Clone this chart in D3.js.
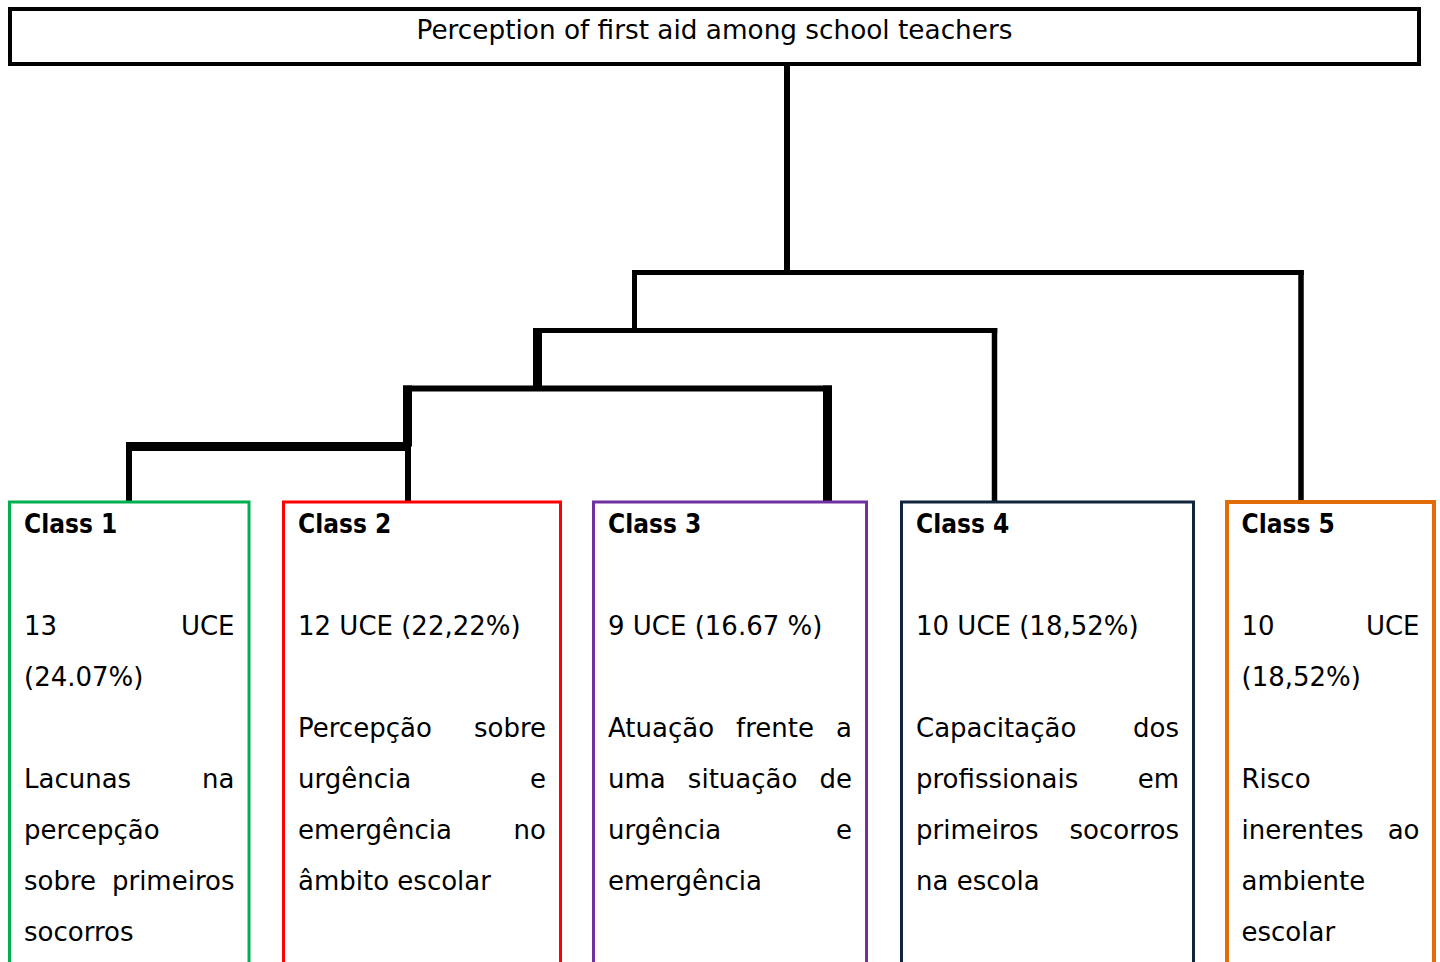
<!DOCTYPE html>
<html>
<head>
<meta charset="utf-8">
<script src="https://cdn.jsdelivr.net/npm/d3@7"></script>
<style>
  html, body { margin: 0; padding: 0; background: #fff; overflow: hidden; }
  svg { display: block; }
</style>
</head>
<body>
<svg id="chart" width="1440" height="962"></svg>
<script>
// ---------- DATA ----------
const title = "Perception of first aid among school teachers";
const classNames = ["Class 1", "Class 2", "Class 3", "Class 4", "Class 5"];
const uceCounts = [13, 12, 9, 10, 10];
// UCE labels as printed, with the line breaks
const uceLabels = [
  "13 UCE\n(24.07%)",
  "12 UCE (22,22%)",
  "9 UCE (16.67 %)",
  "10 UCE (18,52%)",
  "10 UCE\n(18,52%)"
];
const descriptions = [
  "Lacunas na\npercepção\nsobre primeiros\nsocorros",
  "Percepção sobre\nurgência e\nemergência no\nâmbito escolar",
  "Atuação frente a\numa situação de\nurgência e\nemergência",
  "Capacitação dos\nprofissionais em\nprimeiros socorros\nna escola",
  "Risco\ninerentes ao\nambiente\nescolar"
];
const classColors = ["#00B050", "#FF0000", "#7030A0", "#10243E", "#E36C0A"];
// classification tree (descending hierarchical classification)
const tree = {
  name: "root",
  children: [
    { name: "A", children: [
      { name: "B", children: [
        { name: "C", children: [ { name: "Class 1" }, { name: "Class 2" } ] },
        { name: "Class 3" }
      ]},
      { name: "Class 4" }
    ]},
    { name: "Class 5" }
  ]
};

// ---------- LAYOUT (positions / styles) ----------
const W = 1440, H = 962;
const titleBox = { x: 10, y: 9, w: 1409, h: 55, stroke: 4 };
const boxLeft  = [9.5, 283.5, 593.5, 901.5, 1227];
const boxRight = [249, 560.5, 866.5, 1193.5, 1434];
const boxTop = 502;
const boxStroke = [3, 3, 3, 3, 4];
const pad = 14.5;
const nodeX = { root: 787, A: 634.5, B: 537.5, C: 407.5,
  "Class 1": 129, "Class 2": 408, "Class 3": 827.5, "Class 4": 994.5, "Class 5": 1301 };
const stemWidth = { root: 6, A: 5, B: 9, C: 9,
  "Class 1": 6, "Class 2": 6, "Class 3": 9, "Class 4": 5.5, "Class 5": 5.5 };
const barWidth = { root: 5, A: 5, B: 6, C: 9 };
const rowStart = 533, rowStep = 51;
const bodyFont = "'DejaVu Sans', sans-serif";
const bodySize = 26;

const svg = d3.select("#chart");

// y scale for merge levels (hierarchy height -> y)
const yLevel = d3.scaleLinear().domain([1, 4]).range([446.5, 272.5]);
const yRow = d3.scaleLinear().domain([0, 1]).range([rowStart, rowStart + rowStep]);

// ---------- TITLE BOX ----------
svg.append("rect")
  .attr("x", titleBox.x).attr("y", titleBox.y)
  .attr("width", titleBox.w).attr("height", titleBox.h)
  .attr("fill", "none").attr("stroke", "#000").attr("stroke-width", titleBox.stroke);
svg.append("text")
  .attr("x", titleBox.x + titleBox.w / 2).attr("y", 38.5)
  .attr("text-anchor", "middle")
  .attr("font-family", bodyFont).attr("font-size", 26.3)
  .attr("fill", "#000")
  .text(title);

// ---------- TREE ----------
const root = d3.hierarchy(tree);
const yOf = d => d.children ? yLevel(d.height) : boxTop;
const g = svg.append("g").attr("stroke", "#000").attr("fill", "none");

// root stem from title box
g.append("line")
  .attr("x1", nodeX.root).attr("x2", nodeX.root)
  .attr("y1", titleBox.y + titleBox.h).attr("y2", yOf(root))
  .attr("stroke-width", stemWidth.root);

root.descendants().forEach(d => {
  if (!d.children) return;
  const yb = yOf(d);
  const bw = barWidth[d.data.name];
  const l = d.children[0], r = d.children[d.children.length - 1];
  // horizontal bar
  g.append("line")
    .attr("x1", nodeX[l.data.name] - stemWidth[l.data.name] / 2)
    .attr("x2", nodeX[r.data.name] + stemWidth[r.data.name] / 2)
    .attr("y1", yb).attr("y2", yb)
    .attr("stroke-width", bw);
  // child stems
  d.children.forEach(c => {
    g.append("line")
      .attr("x1", nodeX[c.data.name]).attr("x2", nodeX[c.data.name])
      .attr("y1", yb - bw / 2).attr("y2", yOf(c))
      .attr("stroke-width", stemWidth[c.data.name]);
  });
});

// ---------- CLASS BOXES ----------
classNames.forEach((name, i) => {
  const x0 = boxLeft[i], x1 = boxRight[i];
  svg.append("rect")
    .attr("x", x0).attr("y", boxTop)
    .attr("width", x1 - x0).attr("height", H + 40 - boxTop)
    .attr("fill", "none").attr("stroke", classColors[i])
    .attr("stroke-width", boxStroke[i]);

  const tx0 = x0 + pad, tx1 = x1 - pad;
  const gt = svg.append("g").attr("fill", "#000")
    .attr("font-family", bodyFont).attr("font-size", bodySize);

  // heading
  gt.append("text")
    .attr("x", tx0).attr("y", yRow(0))
    .attr("font-weight", "bold")
    .attr("font-size", 26)
    .style("font-stretch", "condensed")
    .text(name);

  // justified paragraphs
  function paragraph(text, startRow) {
    const lines = text.split("\n");
    lines.forEach((line, li) => {
      const y = yRow(startRow + li);
      const words = line.split(" ");
      const justify = li < lines.length - 1 && words.length > 1;
      if (!justify) {
        gt.append("text").attr("x", tx0).attr("y", y).text(line);
        return;
      }
      const nodes = words.map(w => gt.append("text").attr("y", y).text(w));
      const widths = nodes.map(n => n.node().getComputedTextLength());
      const gap = (tx1 - tx0 - d3.sum(widths)) / (words.length - 1);
      let x = tx0;
      nodes.forEach((n, k) => { n.attr("x", x); x += widths[k] + gap; });
    });
    return lines.length;
  }
  const nU = paragraph(uceLabels[i], 2);
  paragraph(descriptions[i], 2 + nU + 1);
});
</script>
</body>
</html>
